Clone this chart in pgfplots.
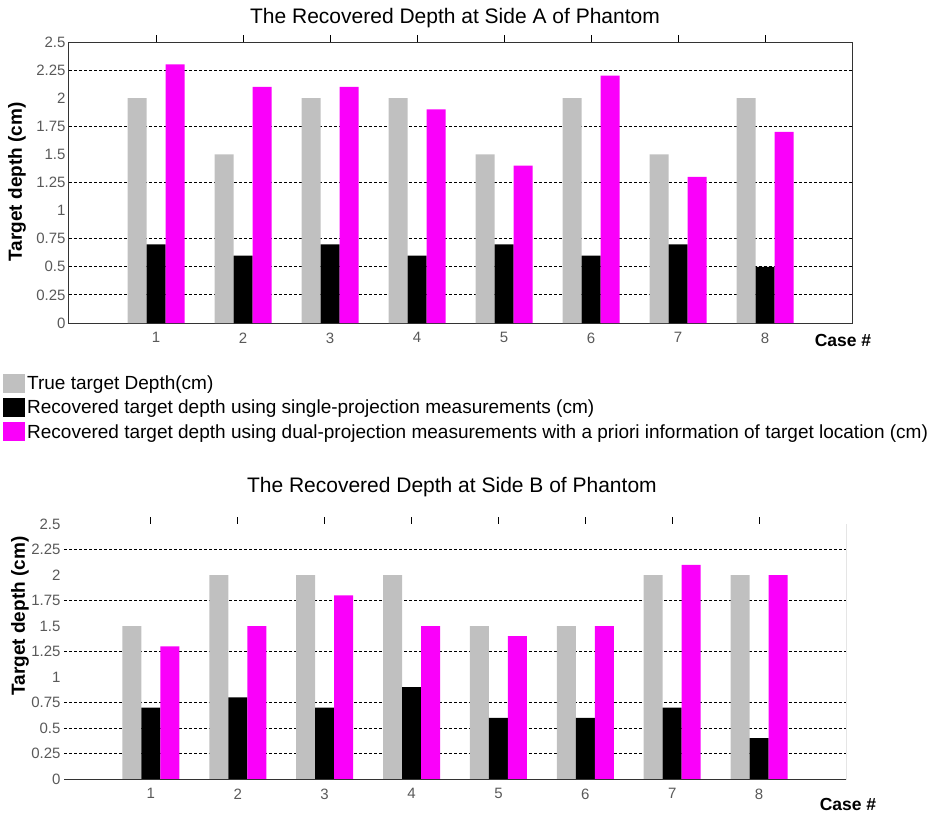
\documentclass[border=0pt]{standalone}
\usepackage{pgfplots}
\pgfplotsset{compat=1.18}
\usepackage{fontspec}
\setmainfont{Liberation Sans}
\definecolor{bargray}{RGB}{192,192,192}
\definecolor{barmag}{RGB}{250,0,250}
\pgfplotsset{
  every axis title shift=0pt,
  depthstyle/.style={
    scale only axis,
    ybar=0pt, bar width=19pt,
    xmin=0, xmax=9, ymin=0, ymax=2.5,
    xtick={1,2,3,4,5,6,7,8},
    xtick pos=right, xticklabel pos=lower,
    xtick style={black, line width=0.8pt},
    major tick length=7pt,
    ytick={0,0.25,0.5,0.75,1,1.25,1.5,1.75,2,2.25,2.5},
    yticklabels={0,0.25,0.5,0.75,1,1.25,1.5,1.75,2,2.25,2.5},
    ytick style={draw=none},
    extra y ticks={0.25,0.5,0.75,1.25,1.75,2.25},
    extra y tick labels={},
    extra y tick style={ymajorgrids=true},
    grid style={black, line width=1pt, dash pattern=on 3pt off 2pt},
    /pgf/number format/assume math mode=true,
    tick label style={font=\fontsize{15}{15}\selectfont, text=black!65},
    yticklabel style={xshift=0pt},
    xticklabel style={yshift=1pt},
    title style={font=\fontsize{21}{21}\selectfont, anchor=center},
    ylabel={\bfseries Target depth (cm)},
    ylabel style={font=\fontsize{19}{19}\selectfont, anchor=center},
    xlabel={\bfseries Case \#},
    xlabel style={font=\fontsize{17.5}{17.5}\selectfont, anchor=center},
  }
}
\begin{document}
\begin{tikzpicture}
\useasboundingbox (0pt,0pt) rectangle (934pt,-815pt);
% Top chart
\begin{axis}[depthstyle,
  at={(69pt,-323pt)}, anchor=south west,
  width=783pt, height=281pt,
  axis line style={black!80, line width=1pt},
  title={The Recovered Depth at Side A of Phantom},
  title style={at={(axis description cs:0.493,1.0854)}},
  ylabel style={at={(axis description cs:-0.0664,0.502)}},
  xlabel style={at={(axis description cs:0.9885,-0.0605)}},
  legend style={at={(axis description cs:-0.0843,-0.18)}, anchor=north west,
    draw=none, fill=none, inner sep=0pt, row sep=5pt,
    font=\fontsize{19}{19}\selectfont, cells={anchor=west}},
  legend image code/.code={\fill[#1] (0pt,-9.5pt) rectangle (22pt,9.5pt);},
]
\addplot[fill=bargray, draw=none] coordinates {(1,2.0) (2,1.5) (3,2.0) (4,2.0) (5,1.5) (6,2.0) (7,1.5) (8,2.0)};
\addplot[fill=black, draw=none] coordinates {(1,0.7) (2,0.6) (3,0.7) (4,0.6) (5,0.7) (6,0.6) (7,0.7) (8,0.5)};
\addplot[fill=barmag, draw=none] coordinates {(1,2.3) (2,2.1) (3,2.1) (4,1.9) (5,1.4) (6,2.2) (7,1.3) (8,1.7)};
\legend{True target Depth(cm),
  Recovered target depth using single-projection measurements (cm),
  Recovered target depth using dual-projection measurements with a priori information of target location (cm)}
\end{axis}
% Bottom chart
\begin{axis}[depthstyle,
  at={(64pt,-779pt)}, anchor=south west,
  width=782pt, height=255pt,
  axis line style={draw=none},
  title={The Recovered Depth at Side B of Phantom},
  title style={at={(axis description cs:0.496,1.145)}},
  ylabel style={at={(axis description cs:-0.0563,0.639)}},
  xlabel style={at={(axis description cs:1.0026,-0.098)}},
]
\addplot[fill=bargray, draw=none] coordinates {(1,1.5) (2,2.0) (3,2.0) (4,2.0) (5,1.5) (6,1.5) (7,2.0) (8,2.0)};
\addplot[fill=black, draw=none] coordinates {(1,0.7) (2,0.8) (3,0.7) (4,0.9) (5,0.6) (6,0.6) (7,0.7) (8,0.4)};
\addplot[fill=barmag, draw=none] coordinates {(1,1.3) (2,1.5) (3,1.8) (4,1.5) (5,1.4) (6,1.5) (7,2.1) (8,2.0)};
\draw[black!80, line width=1pt] (rel axis cs:0,0) -- (rel axis cs:1,0) -- (rel axis cs:1,1);
\end{axis}
\end{tikzpicture}
\end{document}
